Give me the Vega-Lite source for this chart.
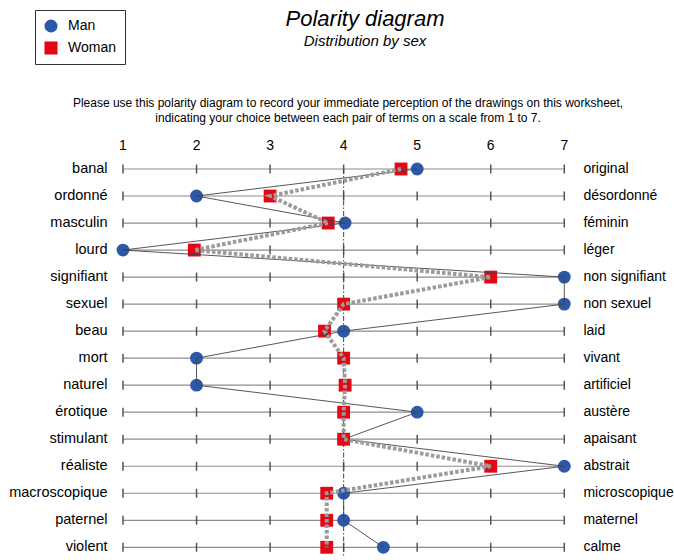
{
  "$schema": "https://vega.github.io/schema/vega-lite/v6.json",
  "width": 674,
  "height": 500,
  "autosize": {"type": "none"},
  "padding": {"left": 0, "top": 60, "right": 0, "bottom": 0},
  "background": "white",
  "title": {
    "text": "Polarity diagram",
    "subtitle": "Distribution by sex",
    "anchor": "middle",
    "dx": 28,
    "offset": -40,
    "font": "Liberation Sans",
    "fontSize": 22,
    "fontStyle": "italic",
    "fontWeight": "normal",
    "color": "black",
    "subtitleFont": "Liberation Sans",
    "subtitleFontSize": 15,
    "subtitleFontStyle": "italic",
    "subtitleColor": "black",
    "subtitlePadding": 3
  },
  "config": {
    "font": "Liberation Sans",
    "view": {"stroke": null},
    "legend": {
      "strokeColor": "#333333",
      "fillColor": "white",
      "padding": 9,
      "symbolSize": 170,
      "symbolStrokeWidth": 0,
      "symbolOpacity": 1,
      "labelFontSize": 14,
      "labelFont": "Liberation Sans",
      "labelColor": "black",
      "labelOffset": 10,
      "rowPadding": 8
    }
  },
  "datasets": {
    "pairs": [
      {"i": 1, "left": "banal", "right": "original", "Man": 5.0, "Woman": 4.78},
      {"i": 2, "left": "ordonné", "right": "désordonné", "Man": 2.0, "Woman": 3.0},
      {"i": 3, "left": "masculin", "right": "féminin", "Man": 4.02, "Woman": 3.79},
      {"i": 4, "left": "lourd", "right": "léger", "Man": 1.0, "Woman": 1.97},
      {"i": 5, "left": "signifiant", "right": "non signifiant", "Man": 7.0, "Woman": 6.0},
      {"i": 6, "left": "sexuel", "right": "non sexuel", "Man": 7.0, "Woman": 4.0},
      {"i": 7, "left": "beau", "right": "laid", "Man": 4.0, "Woman": 3.74},
      {"i": 8, "left": "mort", "right": "vivant", "Man": 2.0, "Woman": 4.0},
      {"i": 9, "left": "naturel", "right": "artificiel", "Man": 2.0, "Woman": 4.02},
      {"i": 10, "left": "érotique", "right": "austère", "Man": 5.0, "Woman": 4.0},
      {"i": 11, "left": "stimulant", "right": "apaisant", "Man": 4.0, "Woman": 4.0},
      {"i": 12, "left": "réaliste", "right": "abstrait", "Man": 7.0, "Woman": 6.0},
      {"i": 13, "left": "macroscopique", "right": "microscopique", "Man": 4.0, "Woman": 3.77},
      {"i": 14, "left": "paternel", "right": "maternel", "Man": 4.0, "Woman": 3.77},
      {"i": 15, "left": "violent", "right": "calme", "Man": 4.54, "Woman": 3.77}
    ],
    "levels": [{"v": 1}, {"v": 2}, {"v": 3}, {"v": 4}, {"v": 5}, {"v": 6}, {"v": 7}],
    "note": [{"text": ["Please use this polarity diagram to record your immediate perception of the drawings on this worksheet,", "indicating your choice between each pair of terms on a scale from 1 to 7."]}]
  },
  "layer": [
    {
      "data": {"name": "pairs"},
      "mark": {"type": "rule", "stroke": "#8c8c8c", "strokeWidth": 1.2},
      "encoding": {
        "x": {"datum": 1, "type": "quantitative", "scale": {"domain": [-0.6723, 8.4917], "nice": false, "zero": false}, "axis": null},
        "x2": {"datum": 7},
        "y": {"field": "left", "type": "nominal", "scale": {"domain": ["banal", "ordonné", "masculin", "lourd", "signifiant", "sexuel", "beau", "mort", "naturel", "érotique", "stimulant", "réaliste", "macroscopique", "paternel", "violent"], "range": [95.49, 500.81]}, "axis": null}
      }
    },
    {
      "data": {"name": "levels"},
      "mark": {"type": "rule", "stroke": "#555555", "strokeWidth": 1.5, "strokeDash": [9, 18.021], "yOffset": -4.5, "y2Offset": 4.5},
      "encoding": {
        "x": {"field": "v", "type": "quantitative"},
        "y": {"datum": "banal", "type": "nominal"},
        "y2": {"datum": "violent"}
      }
    },
    {
      "data": {"name": "levels"},
      "mark": {"type": "text", "fontSize": 14, "color": "black", "baseline": "middle", "align": "center", "yOffset": -23},
      "encoding": {
        "x": {"field": "v", "type": "quantitative"},
        "y": {"datum": "banal", "type": "nominal"},
        "text": {"field": "v", "type": "quantitative"}
      }
    },
    {
      "data": {"values": [{}]},
      "mark": {"type": "rule", "stroke": "#444444", "strokeWidth": 1, "strokeDash": [5, 2, 1.5, 2], "y2Offset": 9},
      "encoding": {
        "x": {"datum": 4, "type": "quantitative"},
        "y": {"datum": "banal", "type": "nominal"},
        "y2": {"datum": "violent"}
      }
    },
    {
      "data": {"name": "note"},
      "mark": {"type": "text", "fontSize": 12, "color": "black", "baseline": "top", "align": "center", "lineHeight": 15, "yOffset": -71},
      "encoding": {
        "x": {"datum": 4.06, "type": "quantitative"},
        "y": {"datum": "banal", "type": "nominal"},
        "text": {"field": "text"}
      }
    },
    {
      "data": {"name": "pairs"},
      "mark": {"type": "text", "fontSize": 14.5, "color": "black", "baseline": "middle", "align": "right"},
      "encoding": {
        "x": {"datum": 0.79, "type": "quantitative"},
        "y": {"field": "left", "type": "nominal"},
        "text": {"field": "left"}
      }
    },
    {
      "data": {"name": "pairs"},
      "mark": {"type": "text", "fontSize": 14, "color": "black", "baseline": "middle", "align": "left"},
      "encoding": {
        "x": {"datum": 7.26, "type": "quantitative"},
        "y": {"field": "left", "type": "nominal"},
        "text": {"field": "right"}
      }
    },
    {
      "data": {"name": "pairs"},
      "transform": [{"fold": ["Man", "Woman"], "as": ["sex", "score"]}],
      "mark": {"type": "point", "filled": true, "opacity": 1, "size": 165, "strokeWidth": 0},
      "encoding": {
        "x": {"field": "score", "type": "quantitative"},
        "y": {"field": "left", "type": "nominal"},
        "color": {"field": "sex", "type": "nominal", "scale": {"domain": ["Man", "Woman"], "range": ["#2c58aa", "#e30613"]}, "legend": {"orient": "none", "legendX": 35, "legendY": -50, "title": null}},
        "shape": {"field": "sex", "type": "nominal", "scale": {"domain": ["Man", "Woman"], "range": ["circle", "square"]}, "legend": {"orient": "none", "legendX": 35, "legendY": -50, "title": null}}
      }
    },
    {
      "data": {"name": "pairs"},
      "mark": {"type": "line", "stroke": "#444444", "strokeWidth": 0.9},
      "encoding": {
        "x": {"field": "Man", "type": "quantitative"},
        "y": {"field": "left", "type": "nominal"},
        "order": {"field": "i", "type": "quantitative"}
      }
    },
    {
      "data": {"name": "pairs"},
      "mark": {"type": "line", "stroke": "#9b9b9b", "strokeWidth": 4, "strokeDash": [3.5, 2]},
      "encoding": {
        "x": {"field": "Woman", "type": "quantitative"},
        "y": {"field": "left", "type": "nominal"},
        "order": {"field": "i", "type": "quantitative"}
      }
    }
  ]
}
